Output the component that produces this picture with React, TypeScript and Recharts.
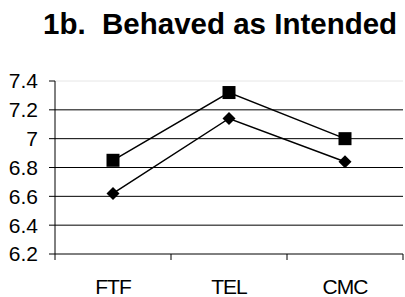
import { LineChart, Line, XAxis, YAxis, ReferenceLine } from "recharts";

const categories = ["FTF", "TEL", "CMC"];
const squareSeries = [6.85, 7.32, 7.0];
const diamondSeries = [6.62, 7.14, 6.84];
const yTicks = [6.2, 6.4, 6.6, 6.8, 7, 7.2, 7.4];

const data = categories.map((cat, i) => ({
  cat,
  square: squareSeries[i],
  diamond: diamondSeries[i],
}));

const font = "'Liberation Sans', Arial, sans-serif";
const TICK = 6;
const GAP = 18;

function SquareDot(props: any) {
  const { cx, cy } = props;
  if (cx == null || cy == null) return null;
  return <rect x={cx - 6.5} y={cy - 6.5} width={13} height={13} fill="#000" />;
}

function DiamondDot(props: any) {
  const { cx, cy } = props;
  if (cx == null || cy == null) return null;
  const r = 6.5;
  return (
    <polygon
      points={`${cx},${cy - r} ${cx + r},${cy} ${cx},${cy + r} ${cx - r},${cy}`}
      fill="#000"
    />
  );
}

// category label at band centre, tick marks at band edges (Excel style)
function CatTick(props: any) {
  const { x, y, payload, index, visibleTicksCount } = props;
  const half = payload?.offset ?? 58;
  const axisY = y - TICK - GAP;
  const last = index === (visibleTicksCount ?? categories.length) - 1;
  return (
    <g>
      <line x1={x - half} x2={x - half} y1={axisY} y2={axisY + TICK} stroke="#000" />
      {last && <line x1={x + half} x2={x + half} y1={axisY} y2={axisY + TICK} stroke="#000" />}
      <text
        x={x}
        y={y + 1}
        dy="0.71em"
        textAnchor="middle"
        fill="#000"
        fontSize={21}
        letterSpacing={-1}
        fontFamily={font}
      >
        {payload.value}
      </text>
    </g>
  );
}

export default function App() {
  return (
    <div style={{ position: "absolute", left: 0, top: 0, width: 405, height: 297, background: "#fff" }}>
      <div
        style={{
          position: "absolute",
          left: 43,
          top: 9,
          fontFamily: font,
          fontWeight: "bold",
          fontSize: 29.5,
          lineHeight: "29px",
          whiteSpace: "pre",
          color: "#000",
        }}
      >
        {"1b.  Behaved as Intended"}
      </div>
      <LineChart
        width={405}
        height={297}
        data={data}
        margin={{ top: 81, right: 2, bottom: 13, left: 0 }}
        style={{ fontFamily: font }}
      >
        <XAxis
          dataKey="cat"
          scale="band"
          height={30}
          interval={0}
          axisLine={{ stroke: "#000" }}
          tickLine={false}
          tickSize={TICK}
          tickMargin={GAP}
          tick={<CatTick />}
        />
        <YAxis
          domain={[6.2, 7.4]}
          ticks={yTicks}
          width={55}
          tickSize={TICK}
          tickMargin={11}
          interval={0}
          axisLine={{ stroke: "#000" }}
          tickLine={{ stroke: "#000" }}
          tick={{ fill: "#000", fontSize: 21 }}
        />
        {yTicks.slice(1).map((t) => (
          <ReferenceLine
            key={t}
            y={t}
            stroke={t === 7.4 ? "#e6e6e6" : "#000"}
            strokeWidth={1}
          />
        ))}
        <Line
          dataKey="square"
          stroke="#000"
          strokeWidth={1.5}
          dot={<SquareDot />}
          isAnimationActive={false}
        />
        <Line
          dataKey="diamond"
          stroke="#000"
          strokeWidth={1.5}
          dot={<DiamondDot />}
          isAnimationActive={false}
        />
      </LineChart>
    </div>
  );
}
